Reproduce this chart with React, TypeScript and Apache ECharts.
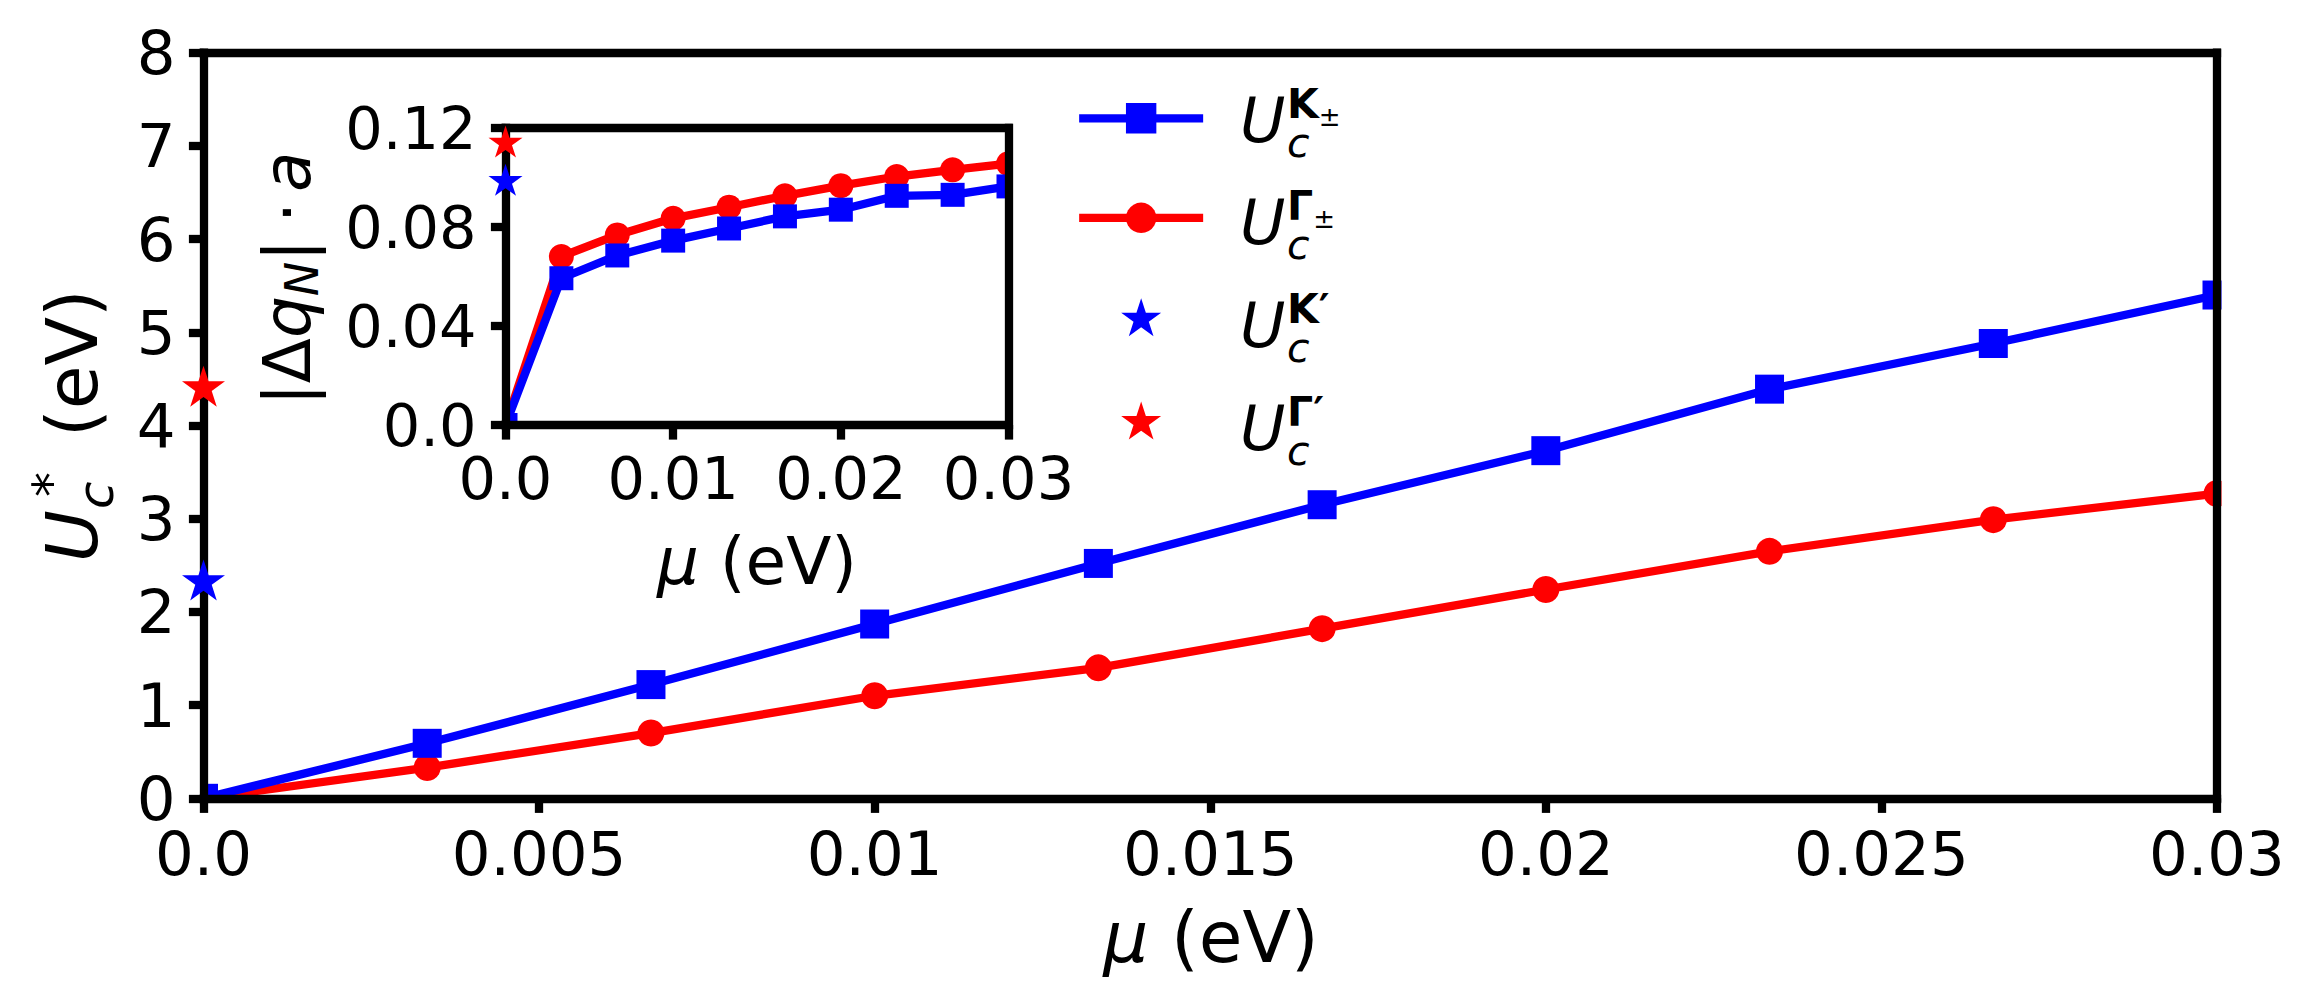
import React, { useEffect, useRef } from 'react';
import * as echarts from 'echarts';

// ---------------- data ----------------
const mu = [0, 0.003333, 0.006667, 0.01, 0.013333, 0.016667, 0.02, 0.023333, 0.026667, 0.03];
const ucKpm = [0, 0.59, 1.22, 1.87, 2.52, 3.15, 3.73, 4.39, 4.88, 5.40];
const ucGpm = [0, 0.33, 0.70, 1.10, 1.40, 1.82, 2.24, 2.65, 2.99, 3.27];
const ucKprime = 2.32;
const ucGprime = 4.40;
const dqK = [0, 0.0593, 0.0685, 0.0745, 0.0794, 0.0843, 0.0870, 0.0926, 0.0930, 0.0964];
const dqG = [0, 0.0681, 0.0768, 0.0835, 0.0880, 0.0926, 0.0967, 0.1004, 0.1031, 0.1056];
const dqKprime = 0.0984;
const dqGprime = 0.1139;

const mainXTicks = ['0.0', '0.005', '0.01', '0.015', '0.02', '0.025', '0.03'];
const mainYTicks = ['0', '1', '2', '3', '4', '5', '6', '7', '8'];
const insetXTicks = ['0.0', '0.01', '0.02', '0.03'];
const insetYTicks = ['0.0', '0.04', '0.08', '0.12'];

const legendNames = ['K±', 'Γ±', "K'", "Γ'"];
const legendSup = ['K', 'Γ', 'K', 'Γ'];
const legendSupSub = ['±', '±', '′', '′'];

// ---------------- styles ----------------
const FONT = 'DejaVu Sans';
const BLUE = '#0000ff';
const RED = '#ff0000';
const LW = 8.3;

function starPath() {
  const pts: string[] = [];
  for (let i = 0; i < 10; i++) {
    const a = -Math.PI / 2 + (i * Math.PI) / 5;
    const r = i % 2 === 0 ? 1 : 0.381966;
    pts.push(`${(r * Math.cos(a) * 100).toFixed(3)} ${(r * Math.sin(a) * 100).toFixed(3)}`);
  }
  return 'path://M' + pts.join(' L') + ' Z';
}
const STAR = starPath();

function txt(x: number, bl: number, text: string, size: number, o: any = {}) {
  return {
    type: 'text',
    x,
    y: o.y ?? bl - 0.346 * size,
    silent: true,
    z: 20,
    style: {
      text,
      fontSize: size,
      fontFamily: FONT,
      fontStyle: o.italic ? 'italic' : 'normal',
      fontWeight: o.bold ? 'bold' : 'normal',
      fill: '#000',
      align: o.align || 'left',
      verticalAlign: 'middle',
      lineHeight: o.lh ?? size,
      rich: o.rich,
    },
  };
}

function lineSeries(name: string, ys: number[], color: string, symbol: string, size: number, xi: number, yi: number, first: 'quarter' | 'none') {
  return {
    type: 'line',
    name,
    xAxisIndex: xi,
    yAxisIndex: yi,
    symbol,
    symbolSize: size,
    showSymbol: true,
    silent: true,
    z: 2,
    lineStyle: { color, width: LW },
    itemStyle: { color, opacity: 1 },
    data: mu.map((x, i) => {
      if (i !== 0) return [x, ys[i]];
      return first === 'quarter'
        ? { value: [x, ys[i]], symbolSize: size / 2, symbolOffset: [size / 4, -size / 4] }
        : { value: [x, ys[i]], symbol: 'none' };
    }),
  };
}

function starSeries(name: string, y: number, color: string, size: number[], xi: number, yi: number) {
  return {
    type: 'scatter',
    name,
    xAxisIndex: xi,
    yAxisIndex: yi,
    symbol: STAR,
    symbolSize: size,
    symbolOffset: [0, -size[1] * 0.05],
    clip: false,
    silent: true,
    z: 12,
    itemStyle: { color, opacity: 1 },
    data: [[0, y]],
  };
}

function axis(extra: any) {
  return {
    type: 'value',
    axisLine: { show: true, onZero: false, lineStyle: { color: '#000', width: LW, cap: 'square' } },
    splitLine: { show: false },
    axisTick: { show: false },
    axisLabel: { show: false },
    z: 10,
    ...extra,
  };
}

function ticks() {
  return { show: true, length: 14.6, lineStyle: { color: '#000', width: LW } };
}

function labels(margin: number, size: number, list: string[], step: number) {
  return {
    show: true,
    margin,
    fontSize: size,
    fontFamily: FONT,
    color: '#000',
    showMinLabel: true,
    showMaxLabel: true,
    formatter: (v: number) => list[Math.round(v / step)] ?? '',
  };
}

export default function App() {
  const ref = useRef<HTMLDivElement>(null);

  useEffect(() => {
    if (!ref.current) return;
    const chart = echarts.init(ref.current, undefined, { renderer: 'svg' });

    const legendBase = [141.7, 243.8, 346.7, 450];
    // superscript (bold K/Γ with its own sub/prime) stacked above the italic subscript c
    const scriptRich = {
      k: { fontSize: 41, fontWeight: 'bold', fontFamily: FONT, lineHeight: 46, verticalAlign: 'top' },
      p: { fontSize: 26, fontWeight: 'normal', fontFamily: FONT, lineHeight: 26, verticalAlign: 'bottom' },
      c: { fontSize: 41, fontStyle: 'italic', fontWeight: 'normal', fontFamily: FONT, lineHeight: 25.8, verticalAlign: 'middle' },
    };
    const legendTexts: any[] = [];
    legendBase.forEach((b, i) => {
      const kbl = b - 23.4;
      legendTexts.push(txt(1240, b, 'U', 62, { italic: true, lh: 56 }));
      const top = i < 2
        ? `{k|${legendSup[i]}}{p|${legendSupSub[i]}}`
        : `{k|${legendSup[i]}${legendSupSub[i]}}`;
      legendTexts.push(txt(1287, kbl, `${top}\n{c|c}`, 41, { y: kbl + 1.2, lh: 41, rich: scriptRich }));
    });

    const option: any = {
      animation: false,
      backgroundColor: '#ffffff',
      grid: [
        { left: 203.5, top: 52.7, width: 2013.5, height: 745.6, containLabel: false, outerBoundsMode: 'none' },
        { left: 505.5, top: 128, width: 503, height: 297, containLabel: false, outerBoundsMode: 'none' },
      ],
      xAxis: [
        axis({ gridIndex: 0, position: 'bottom', min: 0, max: 0.03, interval: 0.005, axisTick: ticks(), axisLabel: labels(25, 61, mainXTicks, 0.005) }),
        axis({ gridIndex: 0, position: 'top', min: 0, max: 0.03 }),
        axis({ gridIndex: 1, position: 'bottom', min: 0, max: 0.03, interval: 0.01, axisTick: ticks(), axisLabel: labels(24, 59, insetXTicks, 0.01) }),
        axis({ gridIndex: 1, position: 'top', min: 0, max: 0.03 }),
      ],
      yAxis: [
        axis({ gridIndex: 0, position: 'left', min: 0, max: 8, interval: 1, axisTick: ticks(), axisLabel: labels(28, 61, mainYTicks, 1) }),
        axis({ gridIndex: 0, position: 'right', min: 0, max: 8 }),
        axis({ gridIndex: 1, position: 'left', min: 0, max: 0.12, interval: 0.04, axisTick: ticks(), axisLabel: labels(29, 59, insetYTicks, 0.04) }),
        axis({ gridIndex: 1, position: 'right', min: 0, max: 0.12 }),
      ],
      legend: {
        orient: 'vertical',
        left: 1075,
        top: 99.3,
        padding: 0,
        itemWidth: 124,
        itemHeight: 38,
        itemGap: 65.3,
        selectedMode: false,
        symbolKeepAspect: true,
        data: legendNames,
        formatter: () => '',
        textStyle: { fontSize: 10 },
        lineStyle: { width: LW },
        itemStyle: { opacity: 1 },
      },
      series: [
        lineSeries('Γ±', ucGpm, RED, 'circle', 27, 0, 0, 'none'),
        lineSeries('K±', ucKpm, BLUE, 'rect', 29, 0, 0, 'quarter'),
        starSeries("K'", ucKprime, BLUE, [43, 41], 0, 0),
        starSeries("Γ'", ucGprime, RED, [43, 41], 0, 0),
        lineSeries('Γ±', dqG, RED, 'circle', 25, 2, 2, 'none'),
        lineSeries('K±', dqK, BLUE, 'rect', 24, 2, 2, 'quarter'),
        starSeries("K'", dqKprime, BLUE, [34, 32], 2, 2),
        starSeries("Γ'", dqGprime, RED, [34, 32], 2, 2),
      ],
      graphic: [
        // cover marker parts that stick out past the right spines (axes clipping)
        { type: 'rect', silent: true, z: 5, shape: { x: 2221.5, y: 40, width: 60, height: 762 }, style: { fill: '#fff' } },
        { type: 'rect', silent: true, z: 5, shape: { x: 1013, y: 120, width: 22, height: 309 }, style: { fill: '#fff' } },
        // x-axis titles
        txt(1211, 962, '{i|μ} (eV)', 71, { align: 'center', rich: { i: { fontStyle: 'italic', fontSize: 71, fontFamily: FONT } } }),
        txt(757, 584, '{i|μ} (eV)', 66, { align: 'center', rich: { i: { fontStyle: 'italic', fontSize: 66, fontFamily: FONT } } }),
        // main y-axis title  U_c^*  (eV)
        {
          type: 'group', x: 97, y: 557, rotation: Math.PI / 2, silent: true,
          children: [
            txt(-5, 0, 'U', 71, { italic: true, lh: 60 }),
            txt(48, 16, 'c', 50, { italic: true, lh: 34 }),
            txt(60, -29, '*', 50, { lh: 30 }),
            txt(120, 0, '(eV)', 71),
          ],
        },
        // inset y-axis title |Δq_N| · a
        {
          type: 'group', x: 310, y: 397, rotation: Math.PI / 2, silent: true,
          children: [
            txt(-8.4, 0, '|', 66),
            txt(13.8, 0, 'Δ', 66),
            txt(58.9, 0, 'q', 66, { italic: true }),
            txt(100.8, 8, 'N', 46, { italic: true }),
            txt(135.4, 0, '|', 66),
            txt(174, 0, '·', 66),
            txt(205, 0, 'a', 66, { italic: true }),
          ],
        },
        ...legendTexts,
      ],
    };

    chart.setOption(option);
    return () => chart.dispose();
  }, []);

  return (
    <div
      ref={ref}
      style={{ position: 'absolute', left: 0, top: 0, width: 2317, height: 1008, background: '#fff' }}
    />
  );
}
